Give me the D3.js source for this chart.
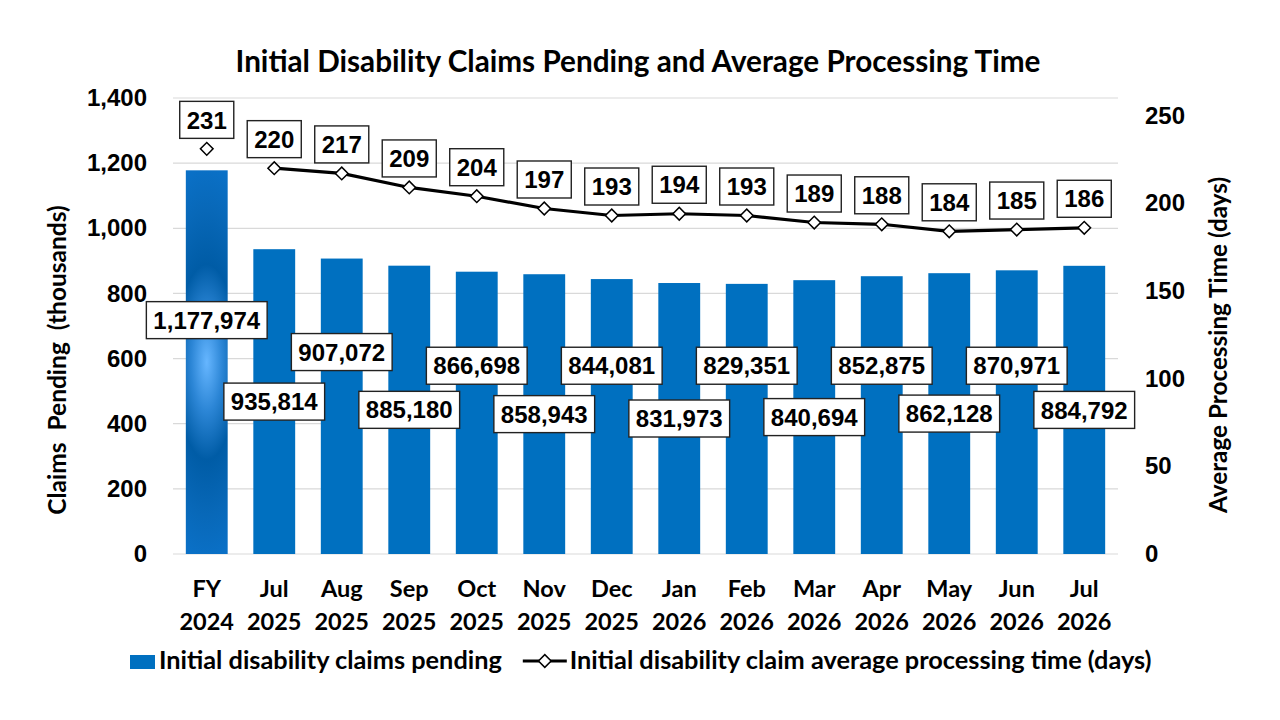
<!DOCTYPE html>
<html>
<head>
<meta charset="utf-8">
<script src="https://cdn.jsdelivr.net/npm/d3@7"></script>
<style>
  html, body { margin: 0; padding: 0; background: #fff; }
  svg { display: block; }
  .title, .axis-title, .cat, .legend-text { font-family: Lato, "Open Sans", sans-serif; font-weight: 700; fill: #000; }
  .tick-label, .data-label { font-family: "Liberation Sans", Arial, sans-serif; font-weight: 700; fill: #000; }
</style>
</head>
<body>
<div class="canvas"></div>
<script>
/////////////////////////////////////////////////
// Data
/////////////////////////////////////////////////

const months = ["FY", "Jul", "Aug", "Sep", "Oct", "Nov", "Dec", "Jan", "Feb", "Mar", "Apr", "May", "Jun", "Jul"];
const years = ["2024", "2025", "2025", "2025", "2025", "2025", "2025", "2026", "2026", "2026", "2026", "2026", "2026", "2026"];
const categories = months.map((m, i) => `${m} ${years[i]}`);

const claimsPending = [1177974, 935814, 907072, 885180, 866698, 858943, 844081, 831973, 829351, 840694, 852875, 862128, 870971, 884792];
const processingDays = [231, 220, 217, 209, 204, 197, 193, 194, 193, 189, 188, 184, 185, 186];

const leftTicks = [0, 200, 400, 600, 800, 1000, 1200, 1400];
const rightTicks = [0, 50, 100, 150, 200, 250];

const seriesNames = ["Initial disability claims pending", "Initial disability claim average processing time (days)"];

/////////////////////////////////////////////////
// Setup
/////////////////////////////////////////////////

const width = 1280;
const height = 720;
const plot = { left: 173, right: 1118, top: 98, bottom: 554 };
const barColor = "#0070c0";

const svg = d3.select(".canvas").append("svg").attr("width", width).attr("height", height);

const x = d3.scaleBand()
  .domain(categories)
  .range([plot.left, plot.right])
  .paddingInner(0.38)
  .paddingOuter(0.19);
const yLeft = d3.scaleLinear().domain([0, 1400]).range([plot.bottom, plot.top]);
const yRight = d3.scaleLinear().domain([0, 260]).range([plot.bottom, plot.top]);

// Gradient used on the FY 2024 bar (squashed radial, light spot mid-bar)
const fyCx = x(categories[0]) + x.bandwidth() / 2;
const fyCy = yLeft(claimsPending[0] / 1000 / 2);
const defs = svg.append("defs");
const grad = defs.append("radialGradient")
  .attr("id", "fyGrad")
  .attr("gradientUnits", "userSpaceOnUse")
  .attr("cx", fyCx).attr("cy", fyCy).attr("r", 195)
  .attr("fx", fyCx).attr("fy", fyCy)
  .attr("gradientTransform", `translate(${fyCx},${fyCy}) scale(0.32,1) translate(${-fyCx},${-fyCy})`);
[
  [0, "#66b6ff"],
  [0.25, "#2c86d6"],
  [0.5, "#005ca6"],
  [0.78, "#0868b8"],
  [1, "#0a70c6"],
].forEach(([o, c]) => grad.append("stop").attr("offset", o).attr("stop-color", c));

// Gridlines
svg.append("g")
  .selectAll("line")
  .data(leftTicks)
  .join("line")
  .attr("x1", plot.left)
  .attr("x2", plot.right)
  .attr("y1", (d) => yLeft(d))
  .attr("y2", (d) => yLeft(d))
  .attr("stroke", "#d9d9d9")
  .attr("stroke-width", 1.2);

// Left axis
const leftAxis = d3.axisLeft(yLeft).tickValues(leftTicks).tickFormat(d3.format(",")).tickSize(0).tickPadding(26);
svg.append("g")
  .attr("transform", `translate(${plot.left},0)`)
  .call(leftAxis)
  .call((g) => g.select(".domain").remove())
  .call((g) => g.selectAll("text").attr("class", "tick-label").style("font-size", "24px"));

// Right axis
const rightAxis = d3.axisRight(yRight).tickValues(rightTicks).tickSize(0).tickPadding(27);
svg.append("g")
  .attr("transform", `translate(${plot.right},0)`)
  .call(rightAxis)
  .call((g) => g.select(".domain").remove())
  .call((g) => g.selectAll("text").attr("class", "tick-label").style("font-size", "24px"));

// Category labels (two lines)
const catGroup = svg.append("g");
categories.forEach((c, i) => {
  const t = catGroup.append("text")
    .attr("class", "cat")
    .attr("text-anchor", "middle")
    .attr("x", x(c) + x.bandwidth() / 2)
    .attr("y", 597)
    .style("font-size", "23.5px");
  t.append("tspan").attr("x", x(c) + x.bandwidth() / 2).text(months[i]);
  t.append("tspan").attr("x", x(c) + x.bandwidth() / 2).attr("dy", 33).text(years[i]);
});

/////////////////////////////////////////////////
// Build
/////////////////////////////////////////////////

const barData = categories.map((c, i) => ({ cat: c, value: claimsPending[i] / 1000, raw: claimsPending[i], i }));
const lineData = categories.map((c, i) => ({ cat: c, value: processingDays[i], i }));

// Bars
svg.append("g")
  .selectAll("rect")
  .data(barData)
  .join("rect")
  .attr("x", (d) => x(d.cat))
  .attr("width", x.bandwidth())
  .attr("y", (d) => yLeft(d.value))
  .attr("height", (d) => yLeft(0) - yLeft(d.value))
  .attr("fill", (d) => (d.i === 0 ? "url(#fyGrad)" : barColor));

// Line (FY 2024 point stands alone)
const line = d3.line()
  .defined((d) => d.i > 0)
  .x((d) => x(d.cat) + x.bandwidth() / 2)
  .y((d) => yRight(d.value));

svg.append("path")
  .datum(lineData)
  .attr("d", line)
  .attr("fill", "none")
  .attr("stroke", "#000")
  .attr("stroke-width", 3.2)
  .attr("stroke-linejoin", "round");

const diamond = d3.symbol().type(d3.symbolSquare).size(80);
svg.append("g")
  .selectAll("path")
  .data(lineData)
  .join("path")
  .attr("d", diamond)
  .attr("transform", (d) => `translate(${x(d.cat) + x.bandwidth() / 2},${yRight(d.value)}) rotate(45)`)
  .attr("fill", "#fff")
  .attr("stroke", "#000")
  .attr("stroke-width", 1.5);

// Boxed data labels
function boxedLabel(g, cx, cy, text) {
  const lg = g.append("g");
  const rect = lg.append("rect");
  const t = lg.append("text")
    .attr("class", "data-label")
    .attr("x", cx)
    .attr("y", cy)
    .attr("dy", "0.36em")
    .attr("text-anchor", "middle")
    .style("font-size", "24px")
    .text(text);
  const w = t.node().getComputedTextLength() + 14;
  const h = 37;
  rect.attr("x", cx - w / 2)
    .attr("y", cy - h / 2)
    .attr("width", w)
    .attr("height", h)
    .attr("fill", "#fff")
    .attr("stroke", "#222")
    .attr("stroke-width", 1.4);
}

const labelGroup = svg.append("g");

// Bar labels: odd ones sit at the bar centre, even ones were dragged higher
barData.forEach((d) => {
  let level;
  if (d.i % 2 === 1) level = d.value / 2;
  else if (d.i === 0) level = 718;
  else if (d.i === 2) level = 620;
  else level = 578;
  boxedLabel(labelGroup, x(d.cat) + x.bandwidth() / 2, yLeft(level), d3.format(",")(d.raw));
});

// Line labels above points
lineData.forEach((d) => {
  boxedLabel(labelGroup, x(d.cat) + x.bandwidth() / 2, yRight(d.value) - 29, d.value);
});

// Title
svg.append("text")
  .attr("class", "title")
  .attr("x", 638)
  .attr("y", 72)
  .attr("text-anchor", "middle")
  .style("font-size", "29.7px")
  .text("Initial Disability Claims Pending and Average Processing Time");

// Axis titles
svg.append("text")
  .attr("class", "axis-title")
  .attr("transform", "translate(66,360) rotate(-90)")
  .attr("text-anchor", "middle")
  .style("font-size", "24.5px")
  .style("white-space", "pre")
  .text("Claims  Pending  (thousands)");

svg.append("text")
  .attr("class", "axis-title")
  .attr("transform", "translate(1227,345) rotate(-90)")
  .attr("text-anchor", "middle")
  .style("font-size", "24.3px")
  .text("Average Processing Time (days)");

// Legend
const legend = svg.append("g");
legend.append("rect")
  .attr("x", 130).attr("y", 655)
  .attr("width", 25).attr("height", 14)
  .attr("fill", barColor);
const leg1 = legend.append("text")
  .attr("class", "legend-text")
  .attr("x", 159).attr("y", 669)
  .style("font-size", "25.3px")
  .text(seriesNames[0]);

const l2x = 159 + leg1.node().getComputedTextLength() + 21;
legend.append("line")
  .attr("x1", l2x).attr("x2", l2x + 44)
  .attr("y1", 661).attr("y2", 661)
  .attr("stroke", "#000").attr("stroke-width", 3);
legend.append("path")
  .attr("d", diamond)
  .attr("transform", `translate(${l2x + 22},661) rotate(45)`)
  .attr("fill", "#fff").attr("stroke", "#000").attr("stroke-width", 1.5);
legend.append("text")
  .attr("class", "legend-text")
  .attr("x", l2x + 47).attr("y", 669)
  .style("font-size", "25.3px")
  .text(seriesNames[1]);
</script>
</body>
</html>
